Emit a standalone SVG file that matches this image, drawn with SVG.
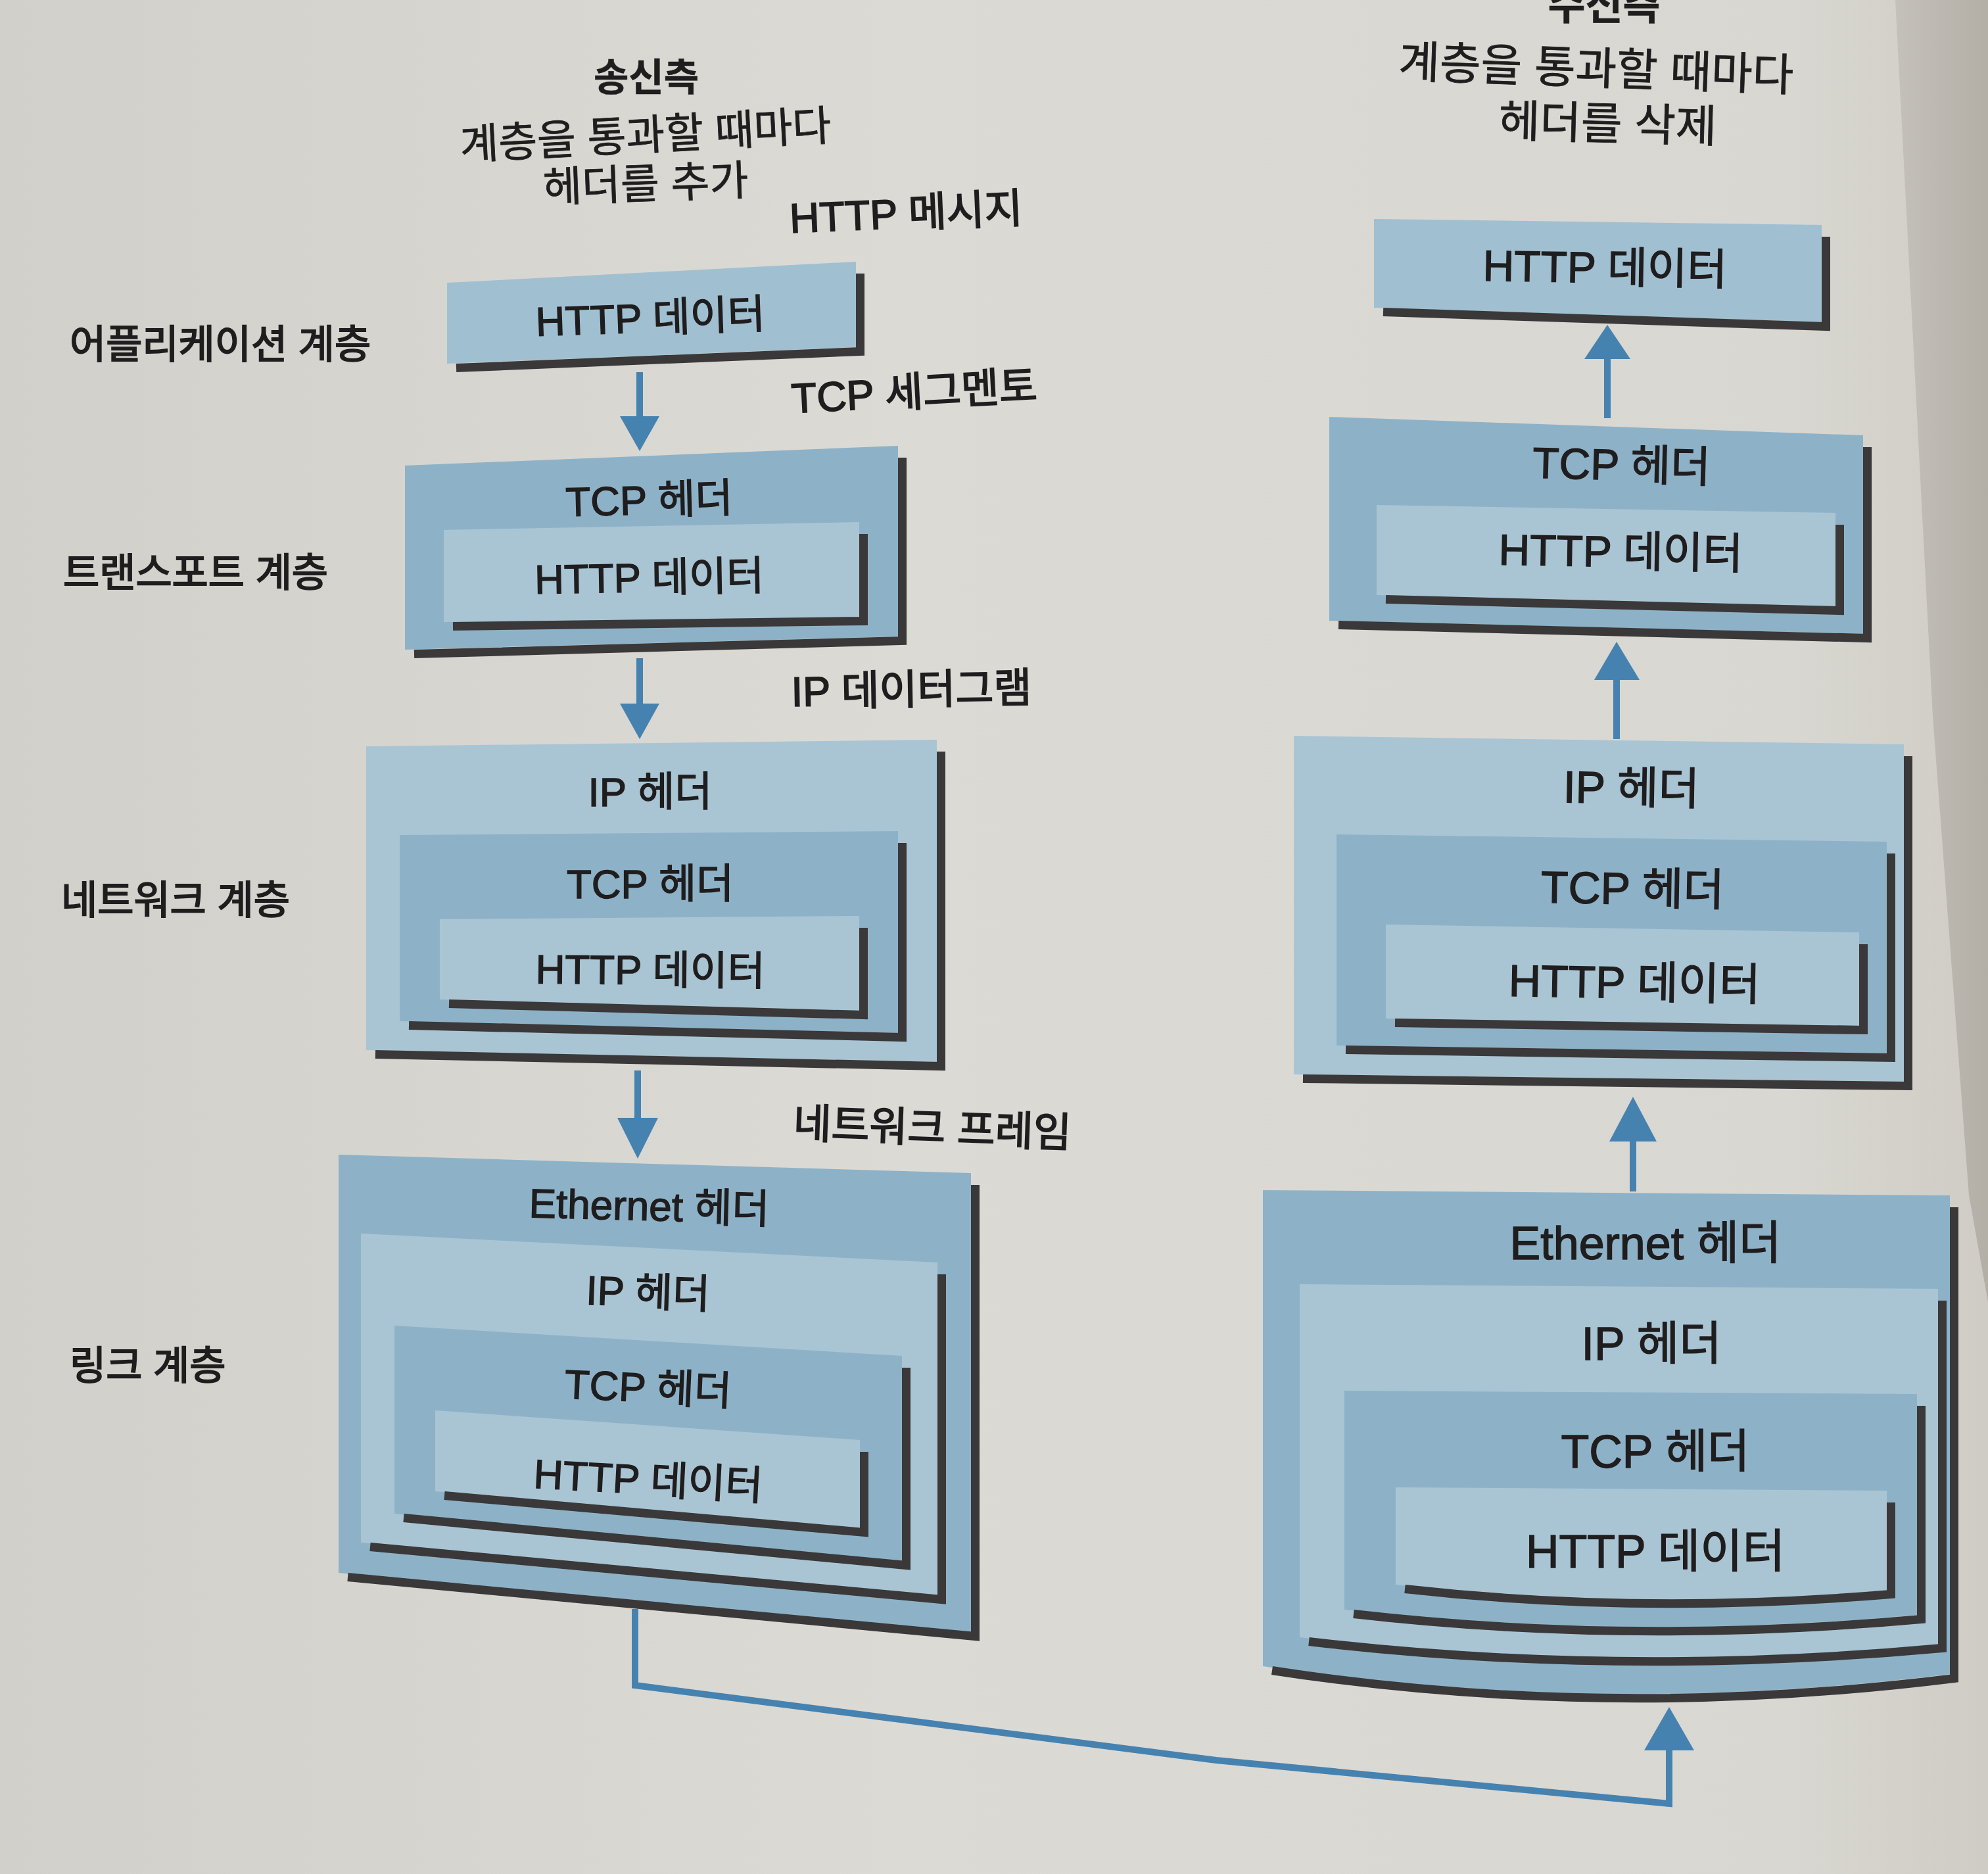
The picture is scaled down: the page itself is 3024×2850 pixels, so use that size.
<svg xmlns="http://www.w3.org/2000/svg" width="3024" height="2850" viewBox="0 0 3024 2850">
<defs>
<linearGradient id="bg" x1="0" y1="0" x2="1" y2="0">
<stop offset="0" stop-color="#d2d0ca"/>
<stop offset="0.45" stop-color="#dcdad5"/>
<stop offset="0.9" stop-color="#d9d7d1"/>
<stop offset="1" stop-color="#cfccc5"/>
</linearGradient>
<linearGradient id="edge" x1="0" y1="0" x2="1" y2="0">
<stop offset="0" stop-color="#c4c1ba"/>
<stop offset="1" stop-color="#b3afa7"/>
</linearGradient>
<style>
.dk{fill:#8db2c8}
.lt{fill:#a9c5d4}
.md{fill:#a0c0d2}
.sh{fill:none;stroke:#3a3839;stroke-width:13;stroke-linejoin:miter;stroke-linecap:butt}
.t{font-family:"Liberation Sans","Noto Sans CJK KR",sans-serif;fill:#1f1d1e;stroke:#1f1d1e;stroke-width:1.4;text-anchor:middle}
.bx{font-size:62px}
.bxr{font-size:68px}
.lab{font-family:"Liberation Sans","Noto Sans CJK KR",sans-serif;fill:#1f1d1e;stroke:#1f1d1e;stroke-width:2;font-size:60px}
.pk{font-family:"Liberation Sans","Noto Sans CJK KR",sans-serif;fill:#1f1d1e;stroke:#1f1d1e;stroke-width:1.8;font-size:63px}
.hd{font-size:64px;stroke-width:0.8}
.ttl{font-size:58px;font-weight:700;stroke-width:0.5}
.ar{stroke:#4682b0;stroke-width:10;fill:none}
.ah{fill:#4682b0}
</style>
</defs>
<rect width="3024" height="2850" fill="url(#bg)"/>
<polygon points="2883,0 3024,0 3024,1980 2995,1818 2940,1090" fill="url(#edge)"/>

<g id="sender-title">
<text class="t ttl" x="983" y="138">송신측</text>
<text class="t hd" x="983" y="228" transform="rotate(-3 983 228)">계층을 통과할 때마다</text>
<text class="t hd" x="983" y="302" transform="rotate(-2 983 302)">헤더를 추가</text>
</g>
<g id="receiver-title">
<text class="t ttl" x="2440" y="30" style="font-size:62px">수신측</text>
<text class="t hd" x="2427" y="128" style="font-size:68px" transform="rotate(2 2427 128)">계층을 통과할 때마다</text>
<text class="t hd" x="2445" y="212" style="font-size:68px" transform="rotate(1.5 2445 212)">헤더를 삭제</text>
</g>

<g id="layer-labels">
<text class="lab" x="106" y="545">어플리케이션 계층</text>
<text class="lab" x="96" y="892">트랜스포트 계층</text>
<text class="lab" x="93" y="1390">네트워크 계층</text>
<text class="lab" x="106" y="2098">링크 계층</text>
</g>

<g id="packet-labels">
<text class="pk" x="1202" y="354" transform="rotate(-2.5 1202 354)">HTTP 메시지</text>
<text class="pk" x="1205" y="628" transform="rotate(-3 1205 628)">TCP 세그멘토</text>
<text class="pk" x="1204" y="1074" transform="rotate(-1 1204 1074)">IP 데이터그램</text>
<text class="pk" x="1206" y="1730" transform="rotate(2 1206 1730)">네트워크 프레임</text>
</g>

<g id="send-application">
<path class="md" d="M680 430 L1302 398 L1302 528 L680 553 Z"/>
<path class="sh" d="M694 559.5 L1308.5 534.5 L1308.5 416"/>
<text class="t bx" x="990" y="505" transform="rotate(-2 990 505)">HTTP 데이터</text>
</g>

<g id="send-transport">
<path class="dk" d="M616 708 L1366 678 L1366 968 L616 988 Z"/>
<path class="sh" d="M630 994.5 L1372.5 974.5 L1372.5 696"/>
<path class="lt" d="M675 806 L1307 794 L1307 938 L675 946 Z"/>
<path class="sh" d="M689 952.5 L1313.5 944.5 L1313.5 812"/>
<text class="t bx" x="988" y="782" transform="rotate(-1.5 988 782)">TCP 헤더</text>
<text class="t bx" x="988" y="900" transform="rotate(-1 988 900)">HTTP 데이터</text>
</g>

<g id="send-network">
<path class="lt" d="M557 1135 L1425 1125 L1425 1615 L557 1597 Z"/>
<path class="sh" d="M571 1603.5 L1431.5 1621.5 L1431.5 1143"/>
<path class="dk" d="M608 1270 L1366 1264 L1366 1571 L608 1553 Z"/>
<path class="sh" d="M622 1559.5 L1372.5 1577.5 L1372.5 1282"/>
<path class="lt" d="M669 1398 L1307 1393 L1307 1537 L669 1520 Z"/>
<path class="sh" d="M683 1526.5 L1313.5 1543.5 L1313.5 1411"/>
<text class="t bx" x="989" y="1226">IP 헤더</text>
<text class="t bx" x="989" y="1366">TCP 헤더</text>
<text class="t bx" x="989" y="1497" transform="rotate(0.5 989 1497)">HTTP 데이터</text>
</g>

<g id="send-link">
<path class="dk" d="M515 1756 L1477 1784 L1477 2482 L515 2392 Z"/>
<path class="sh" d="M529 2398.5 L1483.5 2488.5 L1483.5 1802"/>
<path class="lt" d="M549 1876 L1426 1920 L1426 2426 L549 2346 Z"/>
<path class="sh" d="M563 2352.5 L1432.5 2432.5 L1432.5 1938"/>
<path class="dk" d="M600 2016 L1372 2062 L1372 2374 L600 2302 Z"/>
<path class="sh" d="M614 2308.5 L1378.5 2380.5 L1378.5 2080"/>
<path class="lt" d="M662 2145 L1308 2190 L1308 2324 L662 2268 Z"/>
<path class="sh" d="M676 2274.5 L1314.5 2330.5 L1314.5 2208"/>
<text class="t bx" x="987" y="1856" transform="rotate(1.5 987 1856)">Ethernet 헤더</text>
<text class="t bx" x="985" y="1987" transform="rotate(2 985 1987)">IP 헤더</text>
<text class="t bx" x="985" y="2132" transform="rotate(2.5 985 2132)">TCP 헤더</text>
<text class="t bx" x="985" y="2272" transform="rotate(3 985 2272)">HTTP 데이터</text>
</g>

<g id="recv-application">
<path class="md" d="M2090 333 L2771 342 L2771 490 L2090 468 Z"/>
<path class="sh" d="M2104 474.5 L2777.5 496.5 L2777.5 360"/>
<text class="t bxr" x="2441" y="430" style="font-size:66px" transform="rotate(1 2441 430)">HTTP 데이터</text>
</g>

<g id="recv-transport">
<path class="dk" d="M2022 634 L2834 662 L2834 964 L2022 944 Z"/>
<path class="sh" d="M2036 950.5 L2840.5 970.5 L2840.5 680"/>
<path class="lt" d="M2094 768 L2792 780 L2792 922 L2094 905 Z"/>
<path class="sh" d="M2108 911.5 L2798.5 928.5 L2798.5 798"/>
<text class="t bxr" x="2466" y="730" style="font-size:66px" transform="rotate(1.5 2466 730)">TCP 헤더</text>
<text class="t bxr" x="2465" y="862" style="font-size:66px" transform="rotate(1 2465 862)">HTTP 데이터</text>
</g>

<g id="recv-network">
<path class="lt" d="M1968 1119 L2896 1132 L2896 1645 L1968 1634 Z"/>
<path class="sh" d="M1982 1640.5 L2902.5 1651.5 L2902.5 1150"/>
<path class="dk" d="M2033 1269 L2870 1280 L2870 1602 L2033 1590 Z"/>
<path class="sh" d="M2047 1596.5 L2876.5 1608.5 L2876.5 1298"/>
<path class="lt" d="M2108 1406 L2828 1418 L2828 1560 L2108 1549 Z"/>
<path class="sh" d="M2122 1555.5 L2834.5 1566.5 L2834.5 1436"/>
<text class="t bxr" x="2481" y="1222" transform="rotate(1 2481 1222)">IP 헤더</text>
<text class="t bxr" x="2483" y="1375" transform="rotate(1 2483 1375)">TCP 헤더</text>
<text class="t bxr" x="2486" y="1518" transform="rotate(1 2486 1518)">HTTP 데이터</text>
</g>

<g id="recv-link">
<path class="dk" d="M1921 1810 L2966 1818 L2966 2546 Q2443 2612 1921 2534 Z"/>
<path class="sh" d="M1935 2540.5 Q2443 2618.5 2972.5 2552.5 L2972.5 1836"/>
<path class="lt" d="M1977 1953 L2948 1960 L2948 2500 Q2462 2545 1977 2490 Z"/>
<path class="sh" d="M1991 2496.5 Q2462 2551.5 2954.5 2506.5 L2954.5 1978"/>
<path class="dk" d="M2045 2115 L2916 2120 L2916 2456 Q2480 2496 2045 2448 Z"/>
<path class="sh" d="M2059 2454.5 Q2480 2502.5 2922.5 2462.5 L2922.5 2138"/>
<path class="lt" d="M2123 2262 L2870 2267 L2870 2418 Q2496 2450 2123 2410 Z"/>
<path class="sh" d="M2137 2416.5 Q2496 2456.5 2876.5 2424.5 L2876.5 2285"/>
<text class="t bxr" x="2503" y="1915" style="font-size:70px">Ethernet 헤더</text>
<text class="t bxr" x="2512" y="2068" style="font-size:70px">IP 헤더</text>
<text class="t bxr" x="2518" y="2232" style="font-size:70px">TCP 헤더</text>
<text class="t bxr" x="2518" y="2384" style="font-size:70px">HTTP 데이터</text>
</g>

<g id="connectors">
<line class="ar" x1="973" y1="566" x2="973" y2="640"/>
<polygon class="ah" points="943,633 1003,633 973,686"/>
<line class="ar" x1="973" y1="1001" x2="973" y2="1075"/>
<polygon class="ah" points="943,1070 1003,1070 973,1124"/>
<line class="ar" x1="970" y1="1628" x2="970" y2="1705"/>
<polygon class="ah" points="939,1700 1001,1700 970,1762"/>
<polyline class="ar" points="966,2447 966,2563 1850,2677 2539,2743 2539,2655"/>
<polygon class="ah" points="2501,2662 2577,2662 2539,2596"/>
<line class="ar" x1="2484" y1="1812" x2="2484" y2="1730"/>
<polygon class="ah" points="2448,1736 2520,1736 2484,1668"/>
<line class="ar" x1="2459" y1="1124" x2="2459" y2="1028"/>
<polygon class="ah" points="2425,1034 2494,1034 2459,976"/>
<line class="ar" x1="2445" y1="636" x2="2445" y2="540"/>
<polygon class="ah" points="2410,546 2480,546 2445,494"/>
</g>
</svg>
